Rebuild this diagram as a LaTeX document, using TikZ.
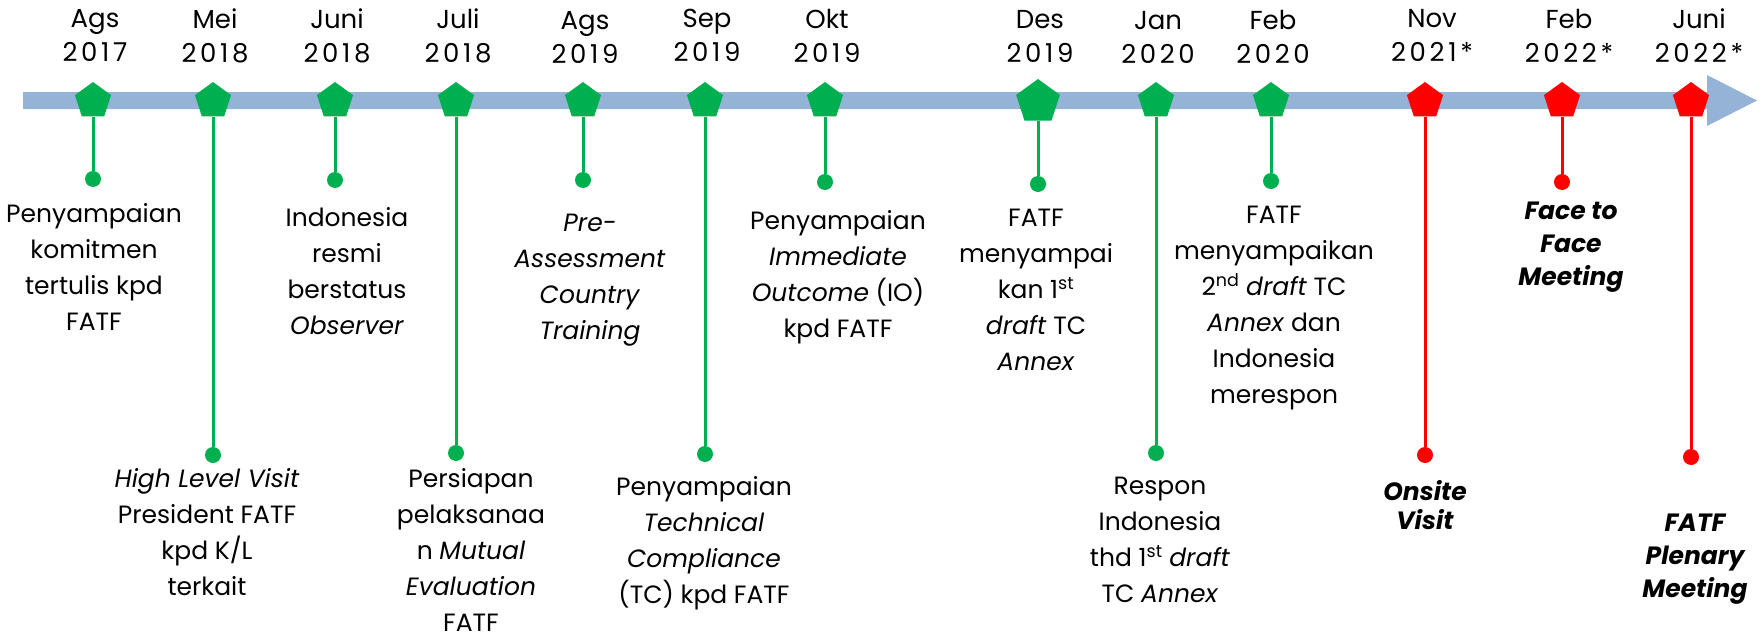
\documentclass[tikz,border=0pt]{standalone}
\usepackage{fontspec}
\setmainfont{Poppins}
\usetikzlibrary{shapes.geometric}
\definecolor{evgreen}{RGB}{0,176,80}
\definecolor{evred}{RGB}{255,0,0}
\definecolor{barblue}{RGB}{149,179,215}
\newcommand{\yr}[1]{{\addfontfeature{LetterSpace=14}#1}}
\begin{document}
\begin{tikzpicture}[x=1pt,y=-1pt,
  pent/.style={regular polygon,regular polygon sides=5,minimum size=38pt,inner sep=0pt,fill=#1,draw=none},
  bigpent/.style={pent=#1,minimum size=46pt},
  dotn/.style={circle,fill=#1,minimum size=16pt,inner sep=0pt,draw=none},
  stem/.style={draw=#1,line width=3pt},
  datelbl/.style={font=\fontsize{26}{34}\selectfont,align=center,anchor=north,inner sep=0pt},
  evlbl/.style={font=\fontsize{25}{36}\selectfont,align=center,anchor=north,inner sep=0pt},
  keylbl/.style={font=\fontsize{25}{33}\selectfont\bfseries\itshape,align=center,anchor=north,inner sep=0pt}
]
\useasboundingbox (0,0) rectangle (1762,634);
% timeline bar with arrow head
\fill[barblue] (23,92) -- (1707,92) -- (1707,75) -- (1757,100.5) -- (1707,126) -- (1707,109) -- (23,109) -- cycle;

% dates
\node[datelbl] (t1) at (95,9) {Ags\\\yr{2017}};
\node[datelbl] (t2) at (215,9) {Mei\\\yr{2018}};
\node[datelbl] (t3) at (337,9) {Juni\\\yr{2018}};
\node[datelbl] (t4) at (458,9) {Juli\\\yr{2018}};
\node[datelbl] (t5) at (585,11) {Ags\\\yr{2019}};
\node[datelbl] (t6) at (707,9) {Sep\\\yr{2019}};
\node[datelbl] (t7) at (827,9) {Okt\\\yr{2019}};
\node[datelbl] (t8) at (1040,10) {Des\\\yr{2019}};
\node[datelbl] (t9) at (1158,11) {Jan\\\yr{2020}};
\node[datelbl] (t10) at (1273,10) {Feb\\\yr{2020}};
\node[datelbl] (t11) at (1432,9) {Nov\\\yr{2021*}};
\node[datelbl] (t12) at (1569,9) {Feb\\\yr{2022*}};
\node[datelbl] (t13) at (1699,9) {Juni\\\yr{2022*}};

% pentagons
\node[pent=evgreen] (p1) at (93,101) {};
\node[pent=evgreen] (p2) at (213,101) {};
\node[pent=evgreen] (p3) at (335,101) {};
\node[pent=evgreen] (p4) at (456,101) {};
\node[pent=evgreen] (p5) at (583,101) {};
\node[pent=evgreen] (p6) at (705,101) {};
\node[pent=evgreen] (p7) at (825,101) {};
\node[bigpent=evgreen] (p8) at (1038,102) {};
\node[pent=evgreen] (p9) at (1156,101) {};
\node[pent=evgreen] (p10) at (1271,101) {};
\node[pent=evred] (p11) at (1425,101) {};
\node[pent=evred] (p12) at (1562,101) {};
\node[pent=evred] (p13) at (1691,101) {};

% dots
\node[dotn=evgreen] (d1) at (93,179) {};
\node[dotn=evgreen] (d2) at (213,455) {};
\node[dotn=evgreen] (d3) at (335,180) {};
\node[dotn=evgreen] (d4) at (456,453) {};
\node[dotn=evgreen] (d5) at (583,180) {};
\node[dotn=evgreen] (d6) at (705,454) {};
\node[dotn=evgreen] (d7) at (825,182) {};
\node[dotn=evgreen] (d8) at (1038,184) {};
\node[dotn=evgreen] (d9) at (1156,453) {};
\node[dotn=evgreen] (d10) at (1271,181) {};
\node[dotn=evred] (d11) at (1425,455) {};
\node[dotn=evred] (d12) at (1562,182) {};
\node[dotn=evred] (d13) at (1691,457) {};

% stems
\foreach \i in {1,...,10} \draw[stem=evgreen] (p\i) -- (d\i);
\foreach \i in {11,12,13} \draw[stem=evred] (p\i) -- (d\i);

% event labels
\node[evlbl] (e1) at (94,203) {Penyampaian\\komitmen\\tertulis kpd\\FATF};
\node[evlbl] (e2) at (207,468) {\textit{High Level Visit}\\President FATF\\kpd K/L\\terkait};
\node[evlbl] (e3) at (347,207) {Indonesia\\resmi\\berstatus\\\textit{Observer}};
\node[evlbl] (e4) at (471,468) {Persiapan\\pelaksanaa\\n \textit{Mutual}\\\textit{Evaluation}\\FATF};
\node[evlbl] (e5) at (590,214) {\textit{Pre-}\\\textit{Assessment}\\\textit{Country}\\\textit{Training}};
\node[evlbl] (e6) at (704,476) {Penyampaian\\\textit{Technical}\\\textit{Compliance}\\(TC) kpd FATF};
\node[evlbl] (e7) at (838,210) {Penyampaian\\\textit{Immediate}\\\textit{Outcome} (IO)\\kpd FATF};
\node[evlbl] (e8) at (1036,209) {FATF\\menyampai\\kan 1\textsuperscript{st}\\\textit{draft} TC\\\textit{Annex}};
\node[evlbl] (e9) at (1160,477) {Respon\\Indonesia\\thd 1\textsuperscript{st} \textit{draft}\\TC \textit{Annex}};
\node[evlbl] (e10) at (1274,206) {FATF\\menyampaikan\\2\textsuperscript{nd} \textit{draft} TC\\\textit{Annex} dan\\Indonesia\\merespon};
\node[keylbl,font=\fontsize{25}{29}\selectfont\bfseries\itshape] (e11) at (1425,480) {Onsite\\Visit};
\node[keylbl] (e12) at (1571,202) {Face to\\Face\\Meeting};
\node[keylbl] (e13) at (1695,514) {FATF\\Plenary\\Meeting};
\end{tikzpicture}
\end{document}
